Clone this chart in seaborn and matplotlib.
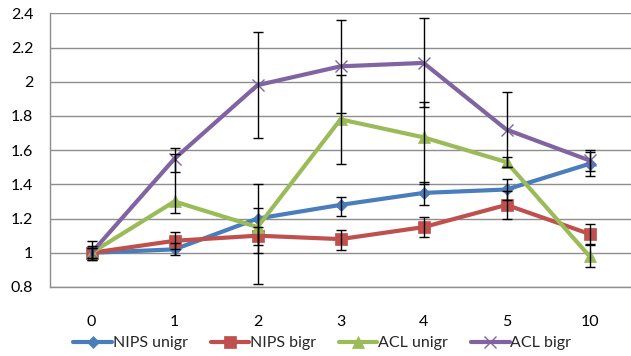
import numpy as np
import pandas as pd
import matplotlib
matplotlib.use("Agg")
import matplotlib.pyplot as plt
import seaborn as sns

# x categories (days)
days = ["0", "1", "2", "3", "4", "5", "10"]

# series values
nips_unigr = [1.00, 1.02, 1.20, 1.28, 1.35, 1.37, 1.52]
nips_bigr = [1.00, 1.07, 1.10, 1.08, 1.15, 1.28, 1.11]
acl_unigr = [1.00, 1.30, 1.15, 1.78, 1.675, 1.53, 0.98]
acl_bigr = [1.00, 1.55, 1.98, 2.09, 2.11, 1.72, 1.54]

# error bars (minus / plus)
nips_unigr_lo = [0.03, 0.035, 0.20, 0.065, 0.07, 0.06, 0.07]
nips_unigr_hi = [0.03, 0.035, 0.20, 0.045, 0.065, 0.06, 0.07]
nips_bigr_lo = [0.04, 0.05, 0.055, 0.065, 0.06, 0.08, 0.06]
nips_bigr_hi = [0.04, 0.05, 0.05, 0.055, 0.06, 0.08, 0.06]
acl_unigr_lo = [0.03, 0.07, 0.33, 0.26, 0.275, 0.03, 0.065]
acl_unigr_hi = [0.03, 0.28, 0.11, 0.26, 0.205, 0.03, 0.065]
acl_bigr_lo = [0.045, 0.08, 0.31, 0.27, 0.26, 0.22, 0.06]
acl_bigr_hi = [0.07, 0.06, 0.31, 0.27, 0.26, 0.22, 0.06]

series = [
    ("NIPS unigr", nips_unigr, nips_unigr_lo, nips_unigr_hi, "#4A7EBB", "D", 6.5),
    ("NIPS bigr", nips_bigr, nips_bigr_lo, nips_bigr_hi, "#C0504D", "s", 8),
    ("ACL unigr", acl_unigr, acl_unigr_lo, acl_unigr_hi, "#9BBB59", "^", 8),
    ("ACL bigr", acl_bigr, acl_bigr_lo, acl_bigr_hi, "#8064A2", "x", 8),
]

sns.set_theme(style="white")
plt.rcParams["font.family"] = ["Lato", "DejaVu Sans"]
FS = 11.5

fig = plt.figure(figsize=(6.31, 3.56), dpi=100)
ax = fig.add_axes([50 / 631, 1 - 287 / 356, 581 / 631, (287 - 13.3) / 356])

pos = np.arange(len(days))
grid_col = "#8E8E8E"

for name, vals, lo, hi, col, mk, ms in series:
    df = pd.DataFrame({"pos": pos, "value": vals})
    sns.lineplot(data=df, x="pos", y="value", ax=ax, color=col, lw=3,
                 marker=mk, markersize=ms, markeredgecolor=col,
                 markeredgewidth=1 if mk == "x" else 0.5, label=name, zorder=3)
    ax.errorbar(pos, vals, yerr=[lo, hi], fmt="none", ecolor="black",
                elinewidth=1, capsize=3.4, capthick=1, zorder=5)

ax.set_xlim(-0.5, len(days) - 0.5)
ax.set_ylim(0.8, 2.4)
yt = np.arange(0.8, 2.41, 0.2)
ax.set_yticks(yt)
ax.set_yticklabels([f"{v:g}" for v in np.round(yt, 1)])
ax.set_xticks(pos)
ax.set_xticklabels(days)
ax.set_xticks(np.arange(-0.5, len(days), 1.0), minor=True)
ax.tick_params(axis="x", which="major", length=0, pad=20, labelsize=FS, colors="black")
ax.tick_params(axis="x", which="minor", length=5, width=1, color=grid_col, direction="out")
ax.tick_params(axis="y", length=5, width=1, color=grid_col, direction="out",
               pad=7, labelsize=FS, colors="black")
ax.set_xlabel("")
ax.set_ylabel("")

ax.yaxis.grid(True, color=grid_col, lw=1)
ax.set_axisbelow(True)
for s in ["top", "right"]:
    ax.spines[s].set_visible(False)
for s in ["left", "bottom"]:
    ax.spines[s].set_color(grid_col)
    ax.spines[s].set_linewidth(1)

handles, labels = ax.get_legend_handles_labels()
ax.get_legend().remove()
fig.legend(handles, labels, loc="center", bbox_to_anchor=(0.511, 0.036), ncol=4,
           frameon=False, fontsize=FS, handlelength=2.4, handletextpad=0.05,
           columnspacing=1.45)

fig.savefig("out.png", dpi=100)
